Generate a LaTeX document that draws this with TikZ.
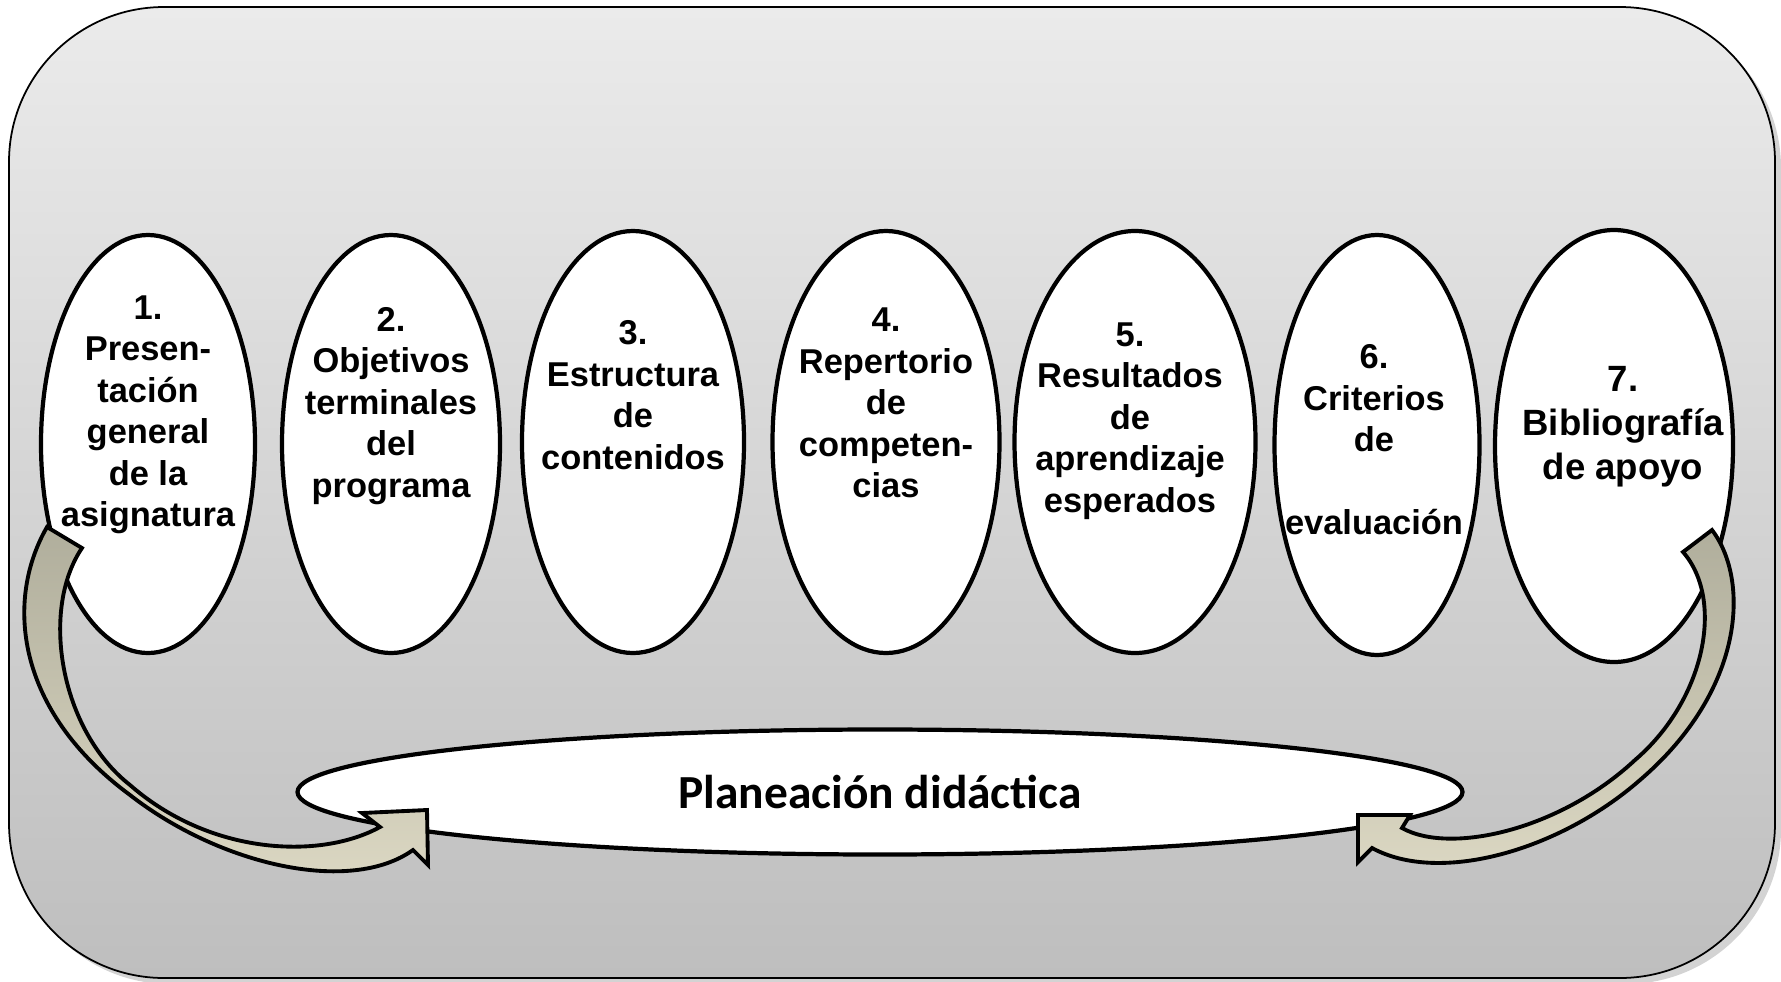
\documentclass[tikz,border=0pt]{standalone}
\usepackage{fontspec}
\setmainfont{Liberation Sans}
\newfontfamily\planfont{Carlito}
\usetikzlibrary{shapes.geometric,shadows}
\definecolor{boxtop}{HTML}{EBEBEB}
\definecolor{boxbottom}{HTML}{BEBEBE}
\definecolor{arrowdark}{HTML}{B0AE9C}
\definecolor{arrowlight}{HTML}{DDD9C4}
\tikzset{
	paso/.style = {draw, ellipse, fill = white, line width = 1.2pt, inner sep = 0pt},
	pasotext/.style = {align = center, font = \bfseries\fontsize{9.8}{11.8}\selectfont},
	flecha/.style = {draw, line width = 1.1pt, top color = arrowdark, bottom color = arrowlight, line join = miter}
}
\begin{document}
\begin{tikzpicture}
				\useasboundingbox (0,0) rectangle (17.81,-9.81);
				% fondo
				\path[draw, line width = 0.5pt, rounded corners = 1.55cm, top color = boxtop, bottom color = boxbottom,
					drop shadow = {shadow xshift = 0.6mm, shadow yshift = -0.6mm, opacity = 0.35}] (0.09,-0.07) rectangle (17.75,-9.78);
				% pasos
				\node[paso, minimum width = 2.14cm, minimum height = 4.18cm] (e1) at (1.48,-4.44) {};
				\node[paso, minimum width = 2.18cm, minimum height = 4.18cm] (e2) at (3.91,-4.44) {};
				\node[paso, minimum width = 2.22cm, minimum height = 4.22cm] (e3) at (6.33,-4.42) {};
				\node[paso, minimum width = 2.27cm, minimum height = 4.22cm] (e4) at (8.86,-4.42) {};
				\node[paso, minimum width = 2.41cm, minimum height = 4.22cm] (e5) at (11.35,-4.42) {};
				\node[paso, minimum width = 2.05cm, minimum height = 4.20cm] (e6) at (13.77,-4.45) {};
				\node[paso, minimum width = 2.38cm, minimum height = 4.32cm] (e7) at (16.14,-4.46) {};
				\node[pasotext] (t1) at (1.48,-4.15) {1.\\Presen-\\tación\\general\\de la\\asignatura};
				\node[pasotext] (t2) at (3.91,-4.06) {2.\\Objetivos\\terminales\\del\\programa};
				\node[pasotext] (t3) at (6.33,-3.95) {3.\\Estructura\\de\\contenidos};
				\node[pasotext] (t4) at (8.86,-4.03) {4.\\Repertorio\\de\\competen-\\cias};
				\node[pasotext] (t5) at (11.30,-4.21) {5.\\Resultados\\de\\aprendizaje\\esperados};
				\node[pasotext] (t6) at (13.74,-4.40) {6.\\Criterios\\de\\~\\evaluación};
				\node[pasotext, font = \bfseries\fontsize{10.4}{12.5}\selectfont] (t7) at (16.23,-4.27) {7.\\Bibliografía\\de apoyo};
				\node[paso, minimum width = 11.65cm, minimum height = 1.25cm, font = \planfont\bfseries\fontsize{13.5}{16}\selectfont] (plan) at (8.80,-7.92) {Planeación didáctica};
				% flechas
				\path[flecha] (0.82,-5.48) -- (0.47,-5.27)
					.. controls (0.05,-6.0) and (0.15,-7.1) .. (1.3,-7.95)
					.. controls (2.2,-8.65) and (3.5,-8.95) .. (4.13,-8.50)
					-- (4.28,-8.65) -- (4.27,-8.10) -- (3.62,-8.13) -- (3.80,-8.27)
					.. controls (3.2,-8.6) and (2.1,-8.55) .. (1.3,-7.85)
					.. controls (0.6,-7.3) and (0.4,-6.1) .. (0.82,-5.48)
					-- cycle;
				\path[flecha] (16.83,-5.52) -- (17.12,-5.30)
					.. controls (17.5,-5.8) and (17.45,-6.9) .. (16.4,-7.8)
					.. controls (15.6,-8.5) and (14.4,-8.85) .. (13.72,-8.48)
					-- (13.58,-8.62) -- (13.58,-8.15) -- (14.10,-8.15) -- (14.02,-8.28)
					.. controls (14.5,-8.55) and (15.6,-8.3) .. (16.35,-7.6)
					.. controls (17.05,-7.0) and (17.25,-6.0) .. (16.83,-5.52)
					-- cycle;
\end{tikzpicture}
\end{document}
